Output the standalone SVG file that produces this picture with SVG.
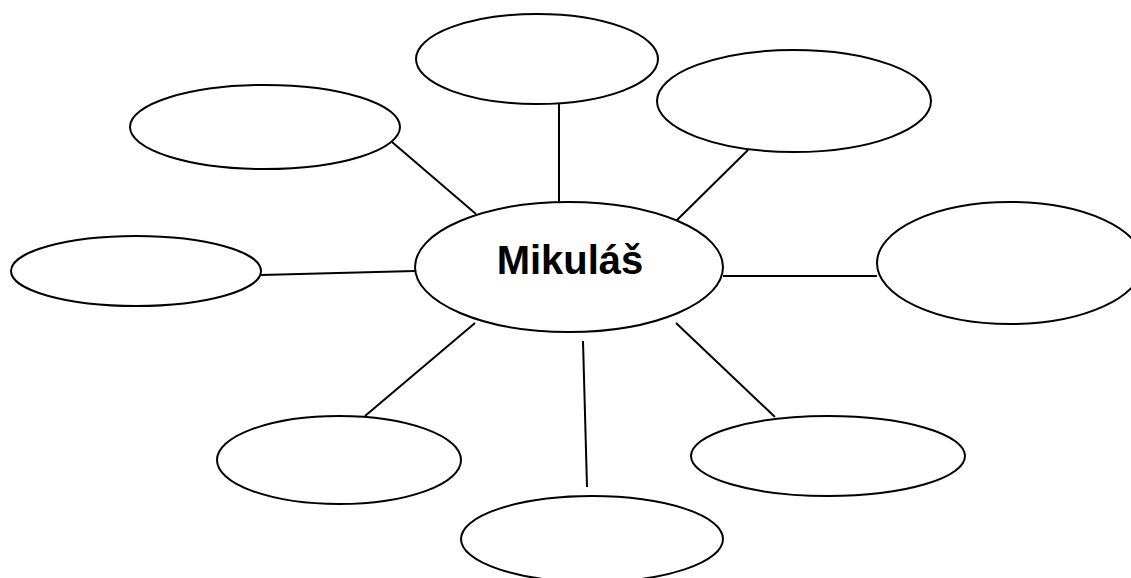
<svg xmlns="http://www.w3.org/2000/svg" width="1131" height="578" viewBox="0 0 1131 578">
<style>
.node{fill:#fff;stroke:#000;stroke-width:2}
.edge{stroke:#000;stroke-width:2;fill:none}
.label{font-family:"Liberation Sans",Arial,sans-serif;font-weight:bold;font-size:40px;fill:#000}
</style>
<rect width="1131" height="578" fill="#fff"/>
<g id="connectors">
<line class="edge" x1="559" y1="104" x2="559" y2="210"/>
<line class="edge" x1="392" y1="142" x2="476" y2="214"/>
<line class="edge" x1="748" y1="150" x2="676" y2="221"/>
<line class="edge" x1="261" y1="275" x2="415" y2="271"/>
<line class="edge" x1="723" y1="276" x2="877" y2="276"/>
<line class="edge" x1="475" y1="323" x2="365" y2="416"/>
<line class="edge" x1="583" y1="341" x2="587" y2="487"/>
<line class="edge" x1="676" y1="323" x2="775" y2="417"/>
</g>
<g id="node-center">
<ellipse class="node" cx="569" cy="267" rx="154" ry="65"/>
<text class="label" x="570" y="274" text-anchor="middle">Mikuláš</text>
</g>
<g id="node-top"><ellipse class="node" cx="537" cy="59" rx="121" ry="45"/></g>
<g id="node-top-right"><ellipse class="node" cx="794" cy="101" rx="137" ry="51"/></g>
<g id="node-top-left"><ellipse class="node" cx="265" cy="127" rx="135" ry="42"/></g>
<g id="node-left"><ellipse class="node" cx="136" cy="271" rx="125" ry="35"/></g>
<g id="node-right"><ellipse class="node" cx="1010" cy="263" rx="133" ry="61"/></g>
<g id="node-bottom-left"><ellipse class="node" cx="339" cy="460" rx="122" ry="44"/></g>
<g id="node-bottom"><ellipse class="node" cx="592" cy="539" rx="131" ry="43"/></g>
<g id="node-bottom-right"><ellipse class="node" cx="828" cy="456" rx="137" ry="40"/></g>
</svg>
